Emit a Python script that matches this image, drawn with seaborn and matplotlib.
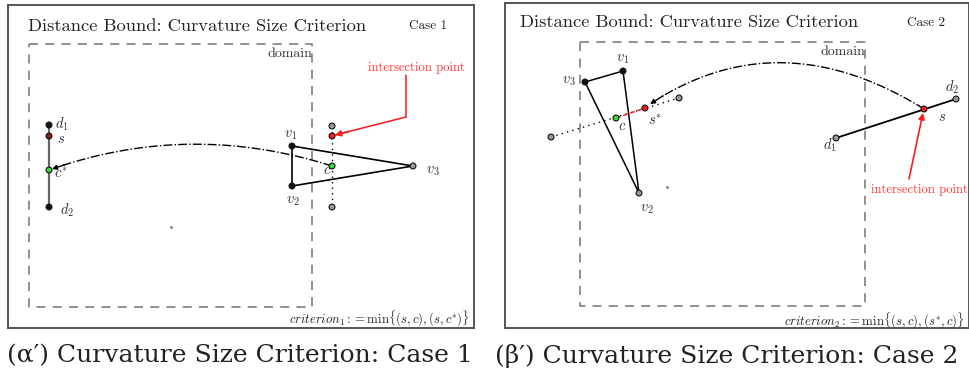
import numpy as np
import matplotlib
matplotlib.use("Agg")
import matplotlib.pyplot as plt
import seaborn as sns

# ---- data (panel-local pixel units, y pointing down) ----
# Case 1
c1_pt_x = [41, 41, 41, 41, 284, 284, 405, 324, 324, 324, 324]
c1_pt_y = [120, 131, 165, 202, 141, 181, 161, 121, 131, 161, 202]
c1_pt_kind = ["black", "darkred", "green", "black", "black", "black", "gray",
              "gray", "red", "green", "gray"]
c1_seg_x = [41, 41]
c1_seg_y = [120, 202]
c1_tri_x = [284, 284, 405, 284]
c1_tri_y = [141, 181, 161, 141]
c1_probe_x = [324, 324]
c1_probe_y = [121, 202]
c1_arc = [(324, 161), (182, 116), (44, 164)]
c1_red_arrow = [(398, 70), (398, 112), (327, 130)]
c1_domain = (21, 39, 304, 302)
c1_labels = [(r"$d_1$", 47, 119), (r"$s$", 49, 134), (r"$c^{*}$", 46, 169),
             (r"$d_2$", 52, 205), (r"$v_1$", 276, 130), (r"$v_2$", 278, 196),
             (r"$v_3$", 418, 166), (r"$c$", 315, 165)]

# Case 2
c2_pt_x = [118, 80, 134, 46, 111, 140, 174, 331, 451, 419]
c2_pt_y = [68, 79, 190, 134, 115, 105, 95, 135, 96, 106]
c2_pt_kind = ["black", "black", "gray", "gray", "green", "red", "gray",
              "gray", "gray", "red"]
c2_tri_x = [80, 118, 134, 80]
c2_tri_y = [79, 68, 190, 79]
c2_probe_x = [46, 174]
c2_probe_y = [134, 95]
c2_red_x = [111, 140]
c2_red_y = [115, 105]
c2_seg_x = [331, 451]
c2_seg_y = [135, 96]
c2_arc = [(419, 106), (274, 16), (145, 101)]
c2_red_arrow = [(404, 176), (418, 110)]
c2_domain = (75, 39, 360, 303)
c2_labels = [(r"$v_1$", 111, 56), (r"$v_3$", 57, 78), (r"$v_2$", 135, 206),
             (r"$c$", 113, 123), (r"$s^{*}$", 143, 118), (r"$d_1$", 318, 142),
             (r"$d_2$", 440, 84), (r"$s$", 433, 114)]

captions = ["(α′) Curvature Size Criterion: Case 1",
            "(β′) Curvature Size Criterion: Case 2"]

palette = {"black": "#111111", "darkred": "#8b1a1a", "green": "#33dd33",
           "gray": "#999999", "red": "#ff1a1a"}

sns.set_style("white")
plt.rcParams["mathtext.fontset"] = "cm"
plt.rcParams["font.family"] = ["DejaVu Serif"]

fig = plt.figure(figsize=(9.7, 3.78), dpi=100)
W, H = 970, 378


def panel(rect, size):
    l, t, w, h = rect
    ax = fig.add_axes([l / W, 1 - (t + h) / H, w / W, h / H])
    ax.set_xlim(0, size[0])
    ax.set_ylim(size[1], 0)
    ax.set_xticks([])
    ax.set_yticks([])
    for sp in ax.spines.values():
        sp.set_color("#555555")
        sp.set_linewidth(1.4)
    return ax


def bezier(p):
    t = np.linspace(0, 1, 80)[:, None]
    p = np.array(p, dtype=float)
    return (1 - t) ** 2 * p[0] + 2 * (1 - t) * t * p[1] + t ** 2 * p[2]


def draw_arc(ax, ctrl):
    b = bezier(ctrl)
    ax.plot(b[:-3, 0], b[:-3, 1], color="black", lw=1.0, ls="-.", zorder=2)
    ax.annotate("", xy=b[-1], xytext=b[-5],
                arrowprops=dict(arrowstyle="-|>", color="black", lw=1.0,
                                mutation_scale=7, shrinkA=0, shrinkB=0))


def common(ax, domain, title, case, crit, title_xy, case_xy, crit_xy):
    x0, y0, x1, y1 = domain
    ax.plot([x0, x1, x1, x0, x0], [y0, y0, y1, y1, y0], color="#888888",
            lw=1.3, ls=(0, (5, 4)), zorder=1)
    ax.text(x1, y0 + 10, "domain", family="cmr10", fontsize=10,
            color="#333333", ha="right", va="center")
    ax.text(*title_xy, title, family="cmr10", fontsize=13.3,
            color="#222222", ha="left", va="center")
    ax.text(*case_xy, case, family="cmr10", fontsize=9.5,
            color="#222222", ha="left", va="center")
    ax.text(*crit_xy, crit, fontsize=9.2, color="#222222",
            ha="right", va="center")


def points(ax, xs, ys, kinds):
    sns.scatterplot(x=xs, y=ys, hue=kinds, palette=palette, s=18,
                    edgecolor="#111111", linewidth=0.8, legend=False,
                    ax=ax, zorder=5)


# ---- Case 1 ----
ax1 = panel((8, 5, 466, 323), (466, 323))
common(ax1, c1_domain, "Distance Bound: Curvature Size Criterion", "Case 1",
       r"$criterion_1 := \mathrm{min}\{(s,c),(s,c^{*})\}$",
       (20, 21), (401, 21), (462, 314))
ax1.plot(c1_seg_x, c1_seg_y, color="#666666", lw=1.6, zorder=3)
ax1.plot(c1_tri_x, c1_tri_y, color="black", lw=1.2, zorder=3)
ax1.plot(c1_probe_x, c1_probe_y, color="black", lw=1.0, ls=(0, (1, 3)), zorder=3)
draw_arc(ax1, c1_arc)
ra = np.array(c1_red_arrow)
ax1.plot(ra[:-1, 0], ra[:-1, 1], color="#ff1a1a", lw=1.1)
ax1.plot(ra[-2:, 0], ra[-2:, 1], color="#ff1a1a", lw=1.1)
ax1.annotate("", xy=ra[-1], xytext=ra[-1] + (ra[-2] - ra[-1]) * 0.2,
             arrowprops=dict(arrowstyle="-|>", color="#ff1a1a", lw=1.1,
                             mutation_scale=9, shrinkA=0, shrinkB=0))
ax1.text(360, 63, "intersection point", family="cmr10", fontsize=9.1,
         color="#ff3333", ha="left", va="center")
points(ax1, c1_pt_x, c1_pt_y, c1_pt_kind)
ax1.scatter([163], [222], s=1, color="#777777")
for txt, x, y in c1_labels:
    ax1.text(x, y, txt, fontsize=10.5, color="#333333", ha="left", va="center")

# ---- Case 2 ----
ax2 = panel((505, 3, 464, 325), (464, 325))
common(ax2, c2_domain, "Distance Bound: Curvature Size Criterion", "Case 2",
       r"$criterion_2 := \mathrm{min}\{(s,c),(s^{*},c)\}$",
       (15, 19), (402, 20), (460, 318))
ax2.plot(c2_tri_x, c2_tri_y, color="black", lw=1.1, zorder=3)
ax2.plot(c2_probe_x, c2_probe_y, color="black", lw=1.0, ls=(0, (1, 3)), zorder=3)
ax2.plot(c2_red_x, c2_red_y, color="#ff1a1a", lw=1.1, ls=(0, (3, 2)), zorder=4)
ax2.plot(c2_seg_x, c2_seg_y, color="black", lw=1.3, zorder=3)
draw_arc(ax2, c2_arc)
rb = np.array(c2_red_arrow)
ax2.annotate("", xy=rb[1], xytext=rb[0],
             arrowprops=dict(arrowstyle="-|>", color="#ff1a1a", lw=1.2,
                             mutation_scale=9, shrinkA=0, shrinkB=0))
ax2.text(366, 187, "intersection point", family="cmr10", fontsize=9.1,
         color="#ff3333", ha="left", va="center")
points(ax2, c2_pt_x, c2_pt_y, c2_pt_kind)
ax2.scatter([162], [184], s=1, color="#777777")
for txt, x, y in c2_labels:
    ax2.text(x, y, txt, fontsize=10.5, color="#333333", ha="left", va="center")

# ---- captions ----
fig.text(240 / W, 1 - 356 / H, captions[0], fontsize=18, color="#222222",
         ha="center", va="center")
fig.text(727 / W, 1 - 356 / H, captions[1], fontsize=18, color="#222222",
         ha="center", va="center")

fig.savefig("out.png", dpi=100, facecolor="white")
